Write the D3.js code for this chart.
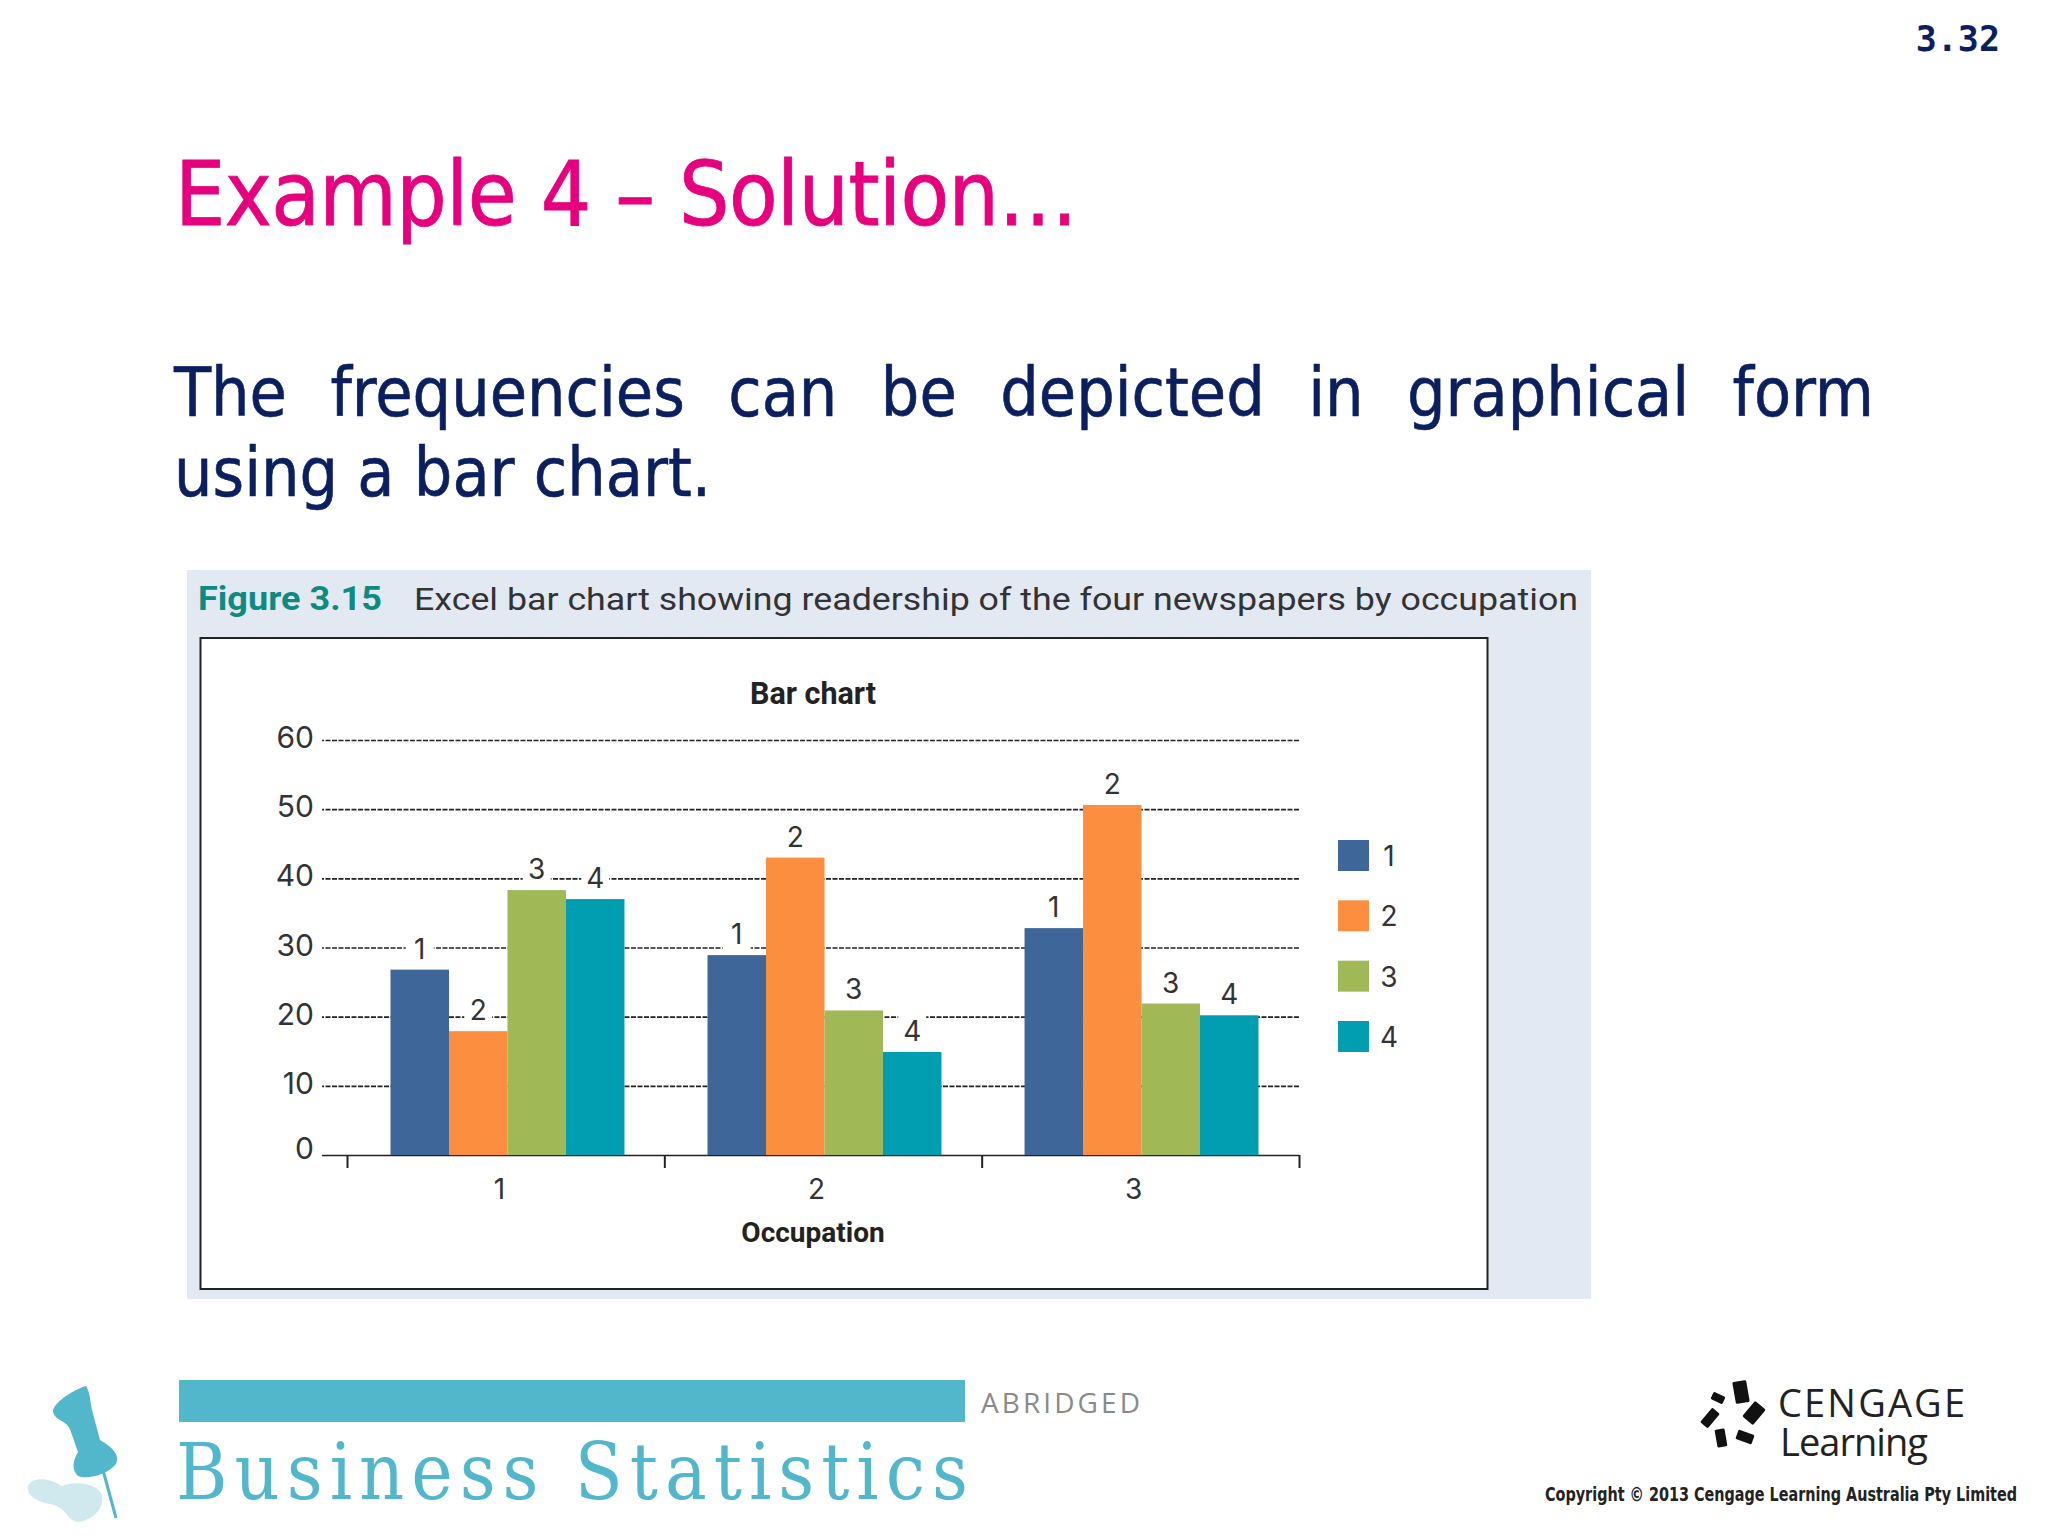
<!DOCTYPE html>
<html><head><meta charset="utf-8">
<style>html,body{margin:0;padding:0;background:#fff}svg{display:block}</style>
<script src="https://cdnjs.cloudflare.com/ajax/libs/d3/7.8.5/d3.min.js"></script>
</head><body><svg id="c" width="2048" height="1536"></svg>
<script>
const occupations = ["1","2","3"];
const seriesNames = ["1","2","3","4"];
const seriesColors = ["#3f6699","#fb8f3f","#a0b856","#009eb0"];
const series1 = [26.8,28.9,32.8];
const series2 = [17.9,43,50.6];
const series3 = [38.3,20.9,21.9];
const series4 = [37,14.9,20.2];
const yTicks = [0,10,20,30,40,50,60];
const allSeries = [series1,series2,series3,series4];

const svg = d3.select("#c");
const chartFont = "Roboto, sans-serif";
const numFont = "Inter, sans-serif";
const slideFont = "'DejaVu Sans Condensed','DejaVu Sans',sans-serif";
function T(x,y,s,o={}){
  const t = svg.append("text").attr("x",x).attr("y",y).text(s)
    .attr("font-family",o.f||chartFont).attr("font-size",o.s).attr("fill",o.c||"#222")
    .attr("text-anchor",o.a||"start");
  if(o.w) t.attr("font-weight",o.w);
  if(o.sw) t.attr("stroke",o.c).attr("stroke-width",o.sw);
  if(o.len) t.attr("textLength",o.len).attr("lengthAdjust",o.adj||"spacingAndGlyphs");
  return t;
}
svg.append("rect").attr("width",2048).attr("height",1536).attr("fill","#fff");
// slide text
T(2000,51,"3.32",{f:"'DejaVu Sans Mono',monospace",s:35,w:700,c:"#0b1f5e",a:"end"});
T(175,225,"Example 4 – Solution…",{f:slideFont,s:88.5,c:"#e6007e",sw:0.8,len:903,adj:"spacing"});
const body1 = T(174,416,"The frequencies can be depicted in graphical form",{f:slideFont,s:67.5,c:"#0b1f5e",sw:0.6});
const gaps = body1.text().split(" ").length-1;
body1.attr("word-spacing",(1700-body1.node().getComputedTextLength())/gaps);
T(174,496,"using a bar chart.",{f:slideFont,s:67.5,c:"#0b1f5e",sw:0.6});
// figure panel
svg.append("rect").attr("x",187).attr("y",570).attr("width",1404).attr("height",729).attr("fill","#e3e9f3");
T(198,610,"Figure 3.15",{s:34,w:700,c:"#0f8a80",len:184});
T(414,610,"Excel bar chart showing readership of the four newspapers by occupation",{s:32,c:"#333",len:1164});
svg.append("rect").attr("x",200.5).attr("y",638).attr("width",1287).attr("height",651).attr("fill","#fff").attr("stroke","#222").attr("stroke-width",2);
// scales
const x0 = d3.scaleBand().domain(occupations).range([348.5,1300.5]).paddingInner(0.262).paddingOuter(0.1325);
const x1 = d3.scaleBand().domain(seriesNames).range([0,x0.bandwidth()]);
const y = d3.scaleLinear().domain([0,60]).range([1155,740]);
const xEdges = d3.scalePoint().domain(d3.range(occupations.length+1)).range([347,1299]);
// y axis and gridlines
const yAxis = svg.append("g").attr("transform","translate(1299,0)")
  .call(d3.axisLeft(y).tickValues(yTicks).tickSize(977).tickPadding(8));
yAxis.select(".domain").remove();
yAxis.selectAll("line").attr("stroke","#222").attr("stroke-width",1.6).attr("stroke-dasharray","5 1.5");
yAxis.selectAll(".tick").filter(d=>d===0).select("line").attr("stroke-dasharray",null);
yAxis.selectAll("text").attr("font-family",numFont).attr("font-size",30).attr("fill","#333").attr("dy","0.25em");
yAxis.selectAll(".tick").filter(d=>d===0).select("text").attr("dy","0.1em");
// bars and data labels
const groups = svg.append("g").selectAll("g").data(occupations).join("g")
  .attr("transform",d=>`translate(${x0(d)},0)`);
const cells = (d,gi)=>seriesNames.map((s,si)=>({s,si,v:allSeries[si][gi]}));
groups.each(function(d,gi){
  const g = d3.select(this);
  g.selectAll("rect.bk").data(cells(d,gi)).join("rect").attr("class","bk")
    .attr("x",c=>x1(c.s)+x1.bandwidth()/2-14).attr("y",c=>y(c.v)-38).attr("width",28).attr("height",34).attr("fill","#fff");
  g.selectAll("rect.bar").data(cells(d,gi)).join("rect").attr("class","bar")
    .attr("x",c=>x1(c.s)).attr("y",c=>y(c.v)).attr("width",x1.bandwidth()).attr("height",c=>y(0)-y(c.v)).attr("fill",c=>seriesColors[c.si]);
  g.selectAll("text").data(cells(d,gi)).join("text").text(c=>c.s)
    .attr("x",c=>x1(c.s)+x1.bandwidth()/2).attr("y",c=>y(c.v)-11).attr("text-anchor","middle")
    .attr("font-family",numFont).attr("font-size",28).attr("fill","#333");
});
// x axis
const xEdgeAxis = svg.append("g").attr("transform","translate(0,1155)")
  .call(d3.axisBottom(xEdges).tickSize(13).tickFormat(""));
xEdgeAxis.select(".domain").remove();
xEdgeAxis.selectAll("line").attr("stroke","#222").attr("stroke-width",2);
const xAxis = svg.append("g").attr("transform","translate(-8,1155)")
  .call(d3.axisBottom(x0).tickSize(0).tickPadding(30));
xAxis.select(".domain").remove();
xAxis.selectAll("text").attr("font-family",numFont).attr("font-size",28).attr("fill","#333").attr("dy","0.5em");
// titles
T(813,704,"Bar chart",{s:30.5,w:700,a:"middle"});
T(813,1242,"Occupation",{s:28,w:700,a:"middle"});
// legend
const legY = d3.scalePoint().domain(seriesNames).range([856,1037]);
const leg = svg.append("g").selectAll("g").data(seriesNames).join("g");
leg.append("rect").attr("x",1338).attr("y",d=>legY(d)-16).attr("width",31).attr("height",31).attr("fill",(d,i)=>seriesColors[i]);
leg.append("text").text(d=>d).attr("x",1389).attr("y",d=>legY(d)+10).attr("text-anchor","middle")
  .attr("font-family",numFont).attr("font-size",28).attr("fill","#333");
// footer left
svg.append("rect").attr("x",179).attr("y",1380).attr("width",786).attr("height",42).attr("fill","#52b7cb");
T(981,1413,"ABRIDGED",{f:"'Open Sans',sans-serif",s:28,c:"#8a8a8a",len:159,adj:"spacing"});
T(176,1499,"Business Statistics",{f:"'DejaVu Serif Condensed','DejaVu Serif',serif",s:78,c:"#52b7cb",len:792,adj:"spacing"});
svg.append("path").attr("d","M28 1486C32 1476 50 1478 62 1486C75 1480 100 1484 102 1496C104 1510 92 1520 78 1522C66 1520 68 1508 50 1504C38 1502 26 1496 28 1486Z").attr("fill","#cfe9ee");
svg.append("path").attr("d","M86 1386C72 1390 52 1404 53 1412C56 1422 68 1420 71 1432L78 1452C72 1462 72 1470 78 1476C88 1480 108 1474 116 1464C120 1456 114 1448 100 1440L92 1410C90 1400 90 1392 86 1386Z").attr("fill","#52b7cb");
svg.append("line").attr("x1",103).attr("y1",1470).attr("x2",116).attr("y2",1518).attr("stroke","#52b7cb").attr("stroke-width",3);
// footer right
const logoPieces = [[1741,1392,14,22,-10],[1718,1398,13,8,25],[1754,1413,14,20,40],[1710,1418,10,19,40],[1721,1438,10,18,-10],[1745,1437,17,10,20]];
svg.append("g").selectAll("rect").data(logoPieces).join("rect")
  .attr("x",d=>-d[2]/2).attr("y",d=>-d[3]/2).attr("width",d=>d[2]).attr("height",d=>d[3]).attr("rx",1.5)
  .attr("transform",d=>`translate(${d[0]},${d[1]}) rotate(${d[4]})`).attr("fill","#111");
T(1778,1417,"CENGAGE",{f:"'Open Sans',sans-serif",s:38,c:"#222",len:187,adj:"spacing"});
T(1780,1456,"Learning",{f:"'Open Sans',sans-serif",s:38,c:"#222",len:148,adj:"spacing"});
T(1545,1501,"Copyright © 2013 Cengage Learning Australia Pty Limited",{f:"'DejaVu Sans',sans-serif",s:19,w:700,c:"#222",len:472});
</script></body></html>
